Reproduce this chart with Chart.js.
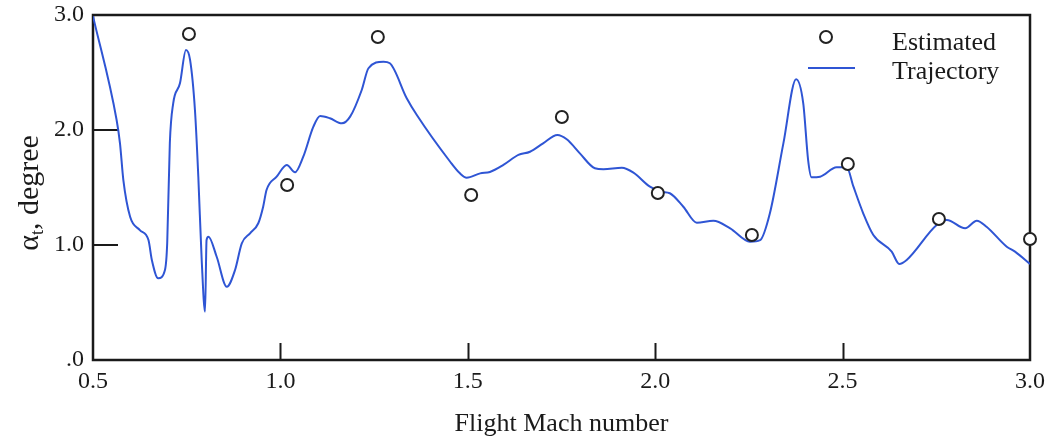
<!DOCTYPE html>
<html><head><meta charset="utf-8">
<script src="https://cdn.jsdelivr.net/npm/chart.js@4/dist/chart.umd.min.js"></script>
<style>html,body{margin:0;padding:0;background:#fff}#wrap{width:1054px;height:441px;position:relative}</style>
</head><body><div id="wrap"><canvas id="c"></canvas></div>
<script>
// ---- data ----
const machTrajectory = [0.50,0.563,0.572,0.581,0.599,0.625,0.648,0.657,0.674,0.692,
  0.698,0.705,0.714,0.732,0.748,0.759,0.772,0.781,0.790,0.799,
  0.803,0.808,0.830,0.857,0.879,0.897,0.919,0.941,0.954,0.963,
  0.990,1.017,1.039,1.061,1.088,1.106,1.132,1.164,1.186,1.217,
  1.235,1.275,1.292,1.337,1.364,1.453,1.479,1.497,1.533,1.559,
  1.595,1.635,1.666,1.701,1.739,1.764,1.799,1.839,1.862,1.911,
  1.942,1.986,2.017,2.039,2.075,2.111,2.155,2.200,2.253,2.280,
  2.306,2.342,2.376,2.395,2.408,2.417,2.440,2.484,2.511,2.529,
  2.555,2.582,2.631,2.651,2.671,2.751,2.778,2.827,2.858,2.884,
  2.938,2.960,3.000];
const alphaTrajectory = [2.99,2.087,1.884,1.565,1.246,1.130,1.043,0.870,0.710,0.783,
  1.017,1.887,2.232,2.406,2.696,2.609,2.174,1.594,0.870,0.420,
  1.043,1.072,0.898,0.637,0.783,1.015,1.102,1.189,1.333,1.478,
  1.594,1.696,1.632,1.768,2.029,2.122,2.102,2.058,2.116,2.348,
  2.537,2.594,2.580,2.276,2.130,1.724,1.623,1.585,1.623,1.635,
  1.696,1.783,1.811,1.884,1.957,1.919,1.797,1.667,1.658,1.672,
  1.629,1.507,1.463,1.450,1.333,1.194,1.211,1.145,1.029,1.043,
  1.276,1.884,2.441,2.232,1.739,1.589,1.594,1.676,1.676,1.507,
  1.276,1.087,0.942,0.835,0.870,1.174,1.217,1.145,1.211,1.159,
  0.985,0.942,0.835];
const machEstimated  = [0.756,1.018,1.260,1.509,1.751,2.007,2.258,2.514,2.757,3.000];
const alphaEstimated = [2.835,1.522,2.809,1.435,2.113,1.452,1.087,1.704,1.226,1.052];
const xTickValues = [0.5,1.0,1.5,2.0,2.5,3.0];
const yTickValues = [0,1,2,3];
const seriesNames = ['Estimated','Trajectory'];
const xTitle = 'Flight Mach number';
const yTitleParts = ['α','t',', degree'];

// ---- styles ----
const SERIF = '"Liberation Serif","Times New Roman",serif';
const INK = '#1a1a1a';
const BLUE = '#2f55d4';

const toXY = (xs, ys) => xs.map((x, i) => ({x: x, y: ys[i]}));

const framePlugin = {
  id: 'frame',
  beforeDatasetsDraw(chart) {
    const {ctx, chartArea: a, scales} = chart;
    ctx.save();
    ctx.strokeStyle = INK;
    ctx.lineWidth = 2;
    ctx.beginPath();
    xTickValues.slice(1, -1).forEach(v => {
      const px = Math.round(scales.x.getPixelForValue(v)) + 0.5;
      ctx.moveTo(px, a.bottom); ctx.lineTo(px, a.bottom - 17);
    });
    yTickValues.slice(1, -1).forEach(v => {
      const py = Math.round(scales.y.getPixelForValue(v));
      ctx.moveTo(a.left, py); ctx.lineTo(a.left + 25, py);
    });
    ctx.stroke();
    ctx.lineWidth = 2.5;
    ctx.strokeRect(a.left, a.top, a.right - a.left, a.bottom - a.top);
    ctx.restore();
  },
  afterDraw(chart) {
    const {ctx, chartArea: a} = chart;
    const est = chart.data.datasets[1], tr = chart.data.datasets[0];
    ctx.save();
    // legend
    ctx.fillStyle = '#fff';
    ctx.strokeStyle = est.borderColor;
    ctx.lineWidth = 2;
    ctx.beginPath(); ctx.arc(a.right - 204, a.top + 22, 6, 0, Math.PI * 2); ctx.fill(); ctx.stroke();
    ctx.strokeStyle = tr.borderColor;
    ctx.beginPath(); ctx.moveTo(a.right - 222, a.top + 53); ctx.lineTo(a.right - 175, a.top + 53); ctx.stroke();
    ctx.fillStyle = INK;
    ctx.font = '26px ' + SERIF;
    ctx.textBaseline = 'middle';
    ctx.textAlign = 'left';
    ctx.fillText(est.label, a.right - 138, a.top + 28);
    ctx.fillText(tr.label, a.right - 138, a.top + 57);
    // y title
    ctx.translate(28, 193);
    ctx.rotate(-Math.PI / 2);
    ctx.font = '30px ' + SERIF;
    const w0 = ctx.measureText(yTitleParts[0]).width;
    const w2 = ctx.measureText(yTitleParts[2]).width;
    ctx.font = '18px ' + SERIF;
    const w1 = ctx.measureText(yTitleParts[1]).width;
    let x = -(w0 + w1 + w2) / 2;
    ctx.textBaseline = 'alphabetic';
    ctx.font = '30px ' + SERIF;
    ctx.fillText(yTitleParts[0], x, 10); x += w0;
    ctx.font = '18px ' + SERIF;
    ctx.fillText(yTitleParts[1], x, 15); x += w1;
    ctx.font = '30px ' + SERIF;
    ctx.fillText(yTitleParts[2], x, 10);
    ctx.restore();
  }
};

const noPad = s => { s.paddingTop = 0; s.paddingBottom = 0; s.paddingLeft = 0; s.paddingRight = 0; };

new Chart(document.getElementById('c'), {
  type: 'scatter',
  data: {
    datasets: [
      {
        label: seriesNames[1],
        data: toXY(machTrajectory, alphaTrajectory),
        showLine: true,
        borderColor: BLUE,
        borderWidth: 2,
        pointRadius: 0,
        pointHoverRadius: 0,
        cubicInterpolationMode: 'monotone',
        order: 2
      },
      {
        label: seriesNames[0],
        data: toXY(machEstimated, alphaEstimated),
        showLine: false,
        borderColor: '#222',
        backgroundColor: '#fff',
        borderWidth: 2,
        pointRadius: 6,
        clip: false,
        order: 1
      }
    ]
  },
  options: {
    responsive: true,
    maintainAspectRatio: false,
    animation: false,
    devicePixelRatio: 1,
    layout: {padding: {left: 0, right: 24, top: 15, bottom: 0}},
    plugins: {legend: {display: false}, tooltip: {enabled: false}},
    scales: {
      x: {
        type: 'linear', min: 0.5, max: 3.0,
        afterBuildTicks: s => { s.ticks = xTickValues.map(v => ({value: v})); },
        afterFit: s => { s.height = 81; noPad(s); },
        grid: {display: false, drawTicks: false},
        border: {display: false},
        ticks: {
          color: INK, padding: 7,
          font: {family: SERIF, size: 24},
          maxRotation: 0,
          callback: v => Number(v).toFixed(1)
        },
        title: {display: true, text: xTitle, color: INK,
          font: {family: SERIF, size: 26}, padding: {top: 0, bottom: 1}}
      },
      y: {
        type: 'linear', min: 0, max: 3,
        afterBuildTicks: s => { s.ticks = yTickValues.map(v => ({value: v})); },
        afterFit: s => { s.width = 93; noPad(s); },
        grid: {display: false, drawTicks: false},
        border: {display: false},
        ticks: {
          color: INK, padding: 9,
          font: {family: SERIF, size: 24},
          callback: v => v === 0 ? '.0' : Number(v).toFixed(1)
        }
      }
    }
  },
  plugins: [framePlugin]
});
</script>
</body></html>
